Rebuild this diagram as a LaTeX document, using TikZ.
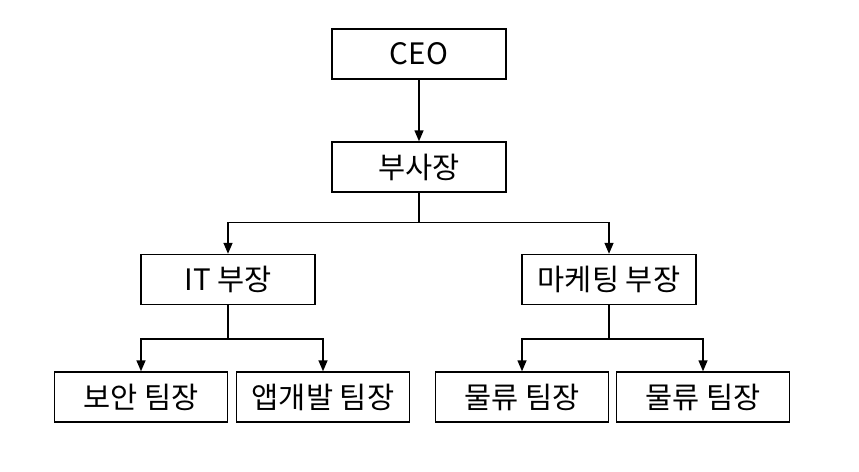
\documentclass[tikz,border=0pt]{standalone}
\usepackage{fontspec}
\setmainfont{Noto Sans CJK KR}
\usetikzlibrary{arrows.meta}

\begin{document}
\begin{tikzpicture}[x=1pt,y=-1pt,
		box/.style={draw,line width=1.4pt,minimum width=174pt,minimum height=50pt,
			inner sep=0pt,font=\fontsize{29.5}{34}\selectfont},
		>={Triangle[length=11pt,width=9pt]}]
		\useasboundingbox (0,0) rectangle (859,471);
		%
		\node[box] (ceo) at (419,54) {CEO};
		\node[box] (vp) at (419,167) {부사장};
		\node[box] (it) at (228,279.5) {IT 부장};
		\node[box] (mk) at (609,279.5) {마케팅 부장};
		\node[box,minimum width=173pt] (sec) at (141,397) {보안 팀장};
		\node[box,minimum width=173pt] (app) at (323,397) {앱개발 팀장};
		\node[box,minimum width=173pt] (log1) at (522,397) {물류 팀장};
		\node[box,minimum width=173pt] (log2) at (703,397) {물류 팀장};
		%
		\coordinate (vpj) at (419,222.5);
		\coordinate (itj) at (228,339);
		\coordinate (mkj) at (609,339);
		%
		\path[line width=1.4pt]
			(ceo) edge[->] (vp)
			(vp) edge (vpj)
			(it) edge (itj)
			(mk) edge (mkj);
		\draw[->,line width=1.4pt] (vpj) -| (it);
		\draw[->,line width=1.4pt] (vpj) -| (mk);
		\draw[->,line width=1.4pt] (itj) -| (sec);
		\draw[->,line width=1.4pt] (itj) -| (app);
		\draw[->,line width=1.4pt] (mkj) -| (log1);
		\draw[->,line width=1.4pt] (mkj) -| (log2);
	\end{tikzpicture}
\end{document}
